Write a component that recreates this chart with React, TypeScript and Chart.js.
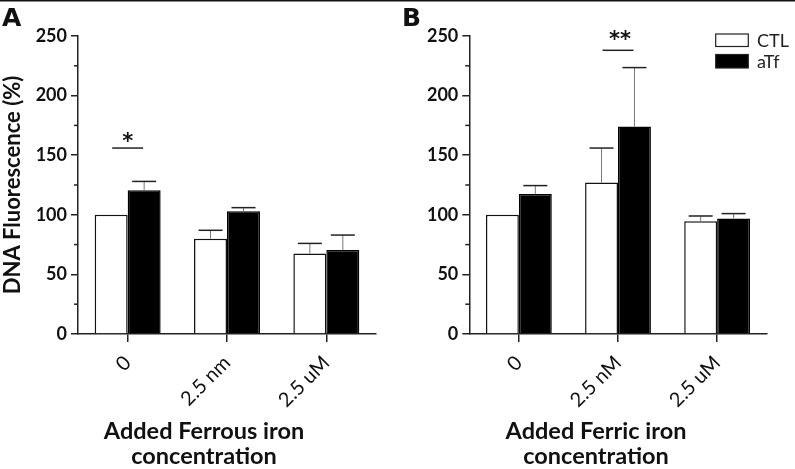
import React, { useEffect, useRef } from 'react';
import { Chart, registerables } from 'chart.js';

Chart.register(...registerables);

// ---------- data ----------
const seriesNames = ['CTL', 'aTf'];
const categoriesA = ['0', '2.5 nm', '2.5 uM'];
const categoriesB = ['0', '2.5 nM', '2.5 uM'];

const ctlA = [100, 80, 67.5];
const ctlErrA = [0, 7, 8.5];
const atfA = [120.5, 103, 70.5];
const atfErrA = [7.5, 3, 12.5];

const ctlB = [100, 127, 94.5];
const ctlErrB = [0, 29, 4.5];
const atfB = [117.5, 174, 97];
const atfErrB = [7, 49.5, 4];

const yMin = 0;
const yMax = 250;
const yStep = 50;
const yMinorTicks = [25, 75, 125, 175, 225];

const sigA = { category: 0, label: '*', lineValue: 156, textValue: 165.5 };
const sigB = { category: 1, label: '**', lineValue: 238, textValue: 250.5 };

const yTitle = 'DNA Fluorescence (%)';
const xTitleA = ['Added Ferrous iron', 'concentration'];
const xTitleB = ['Added Ferric iron', 'concentration'];

// ---------- helpers ----------
const INK = '#111';

function drawCentered(ctx: CanvasRenderingContext2D, text: string, x: number, cy: number) {
  ctx.textBaseline = 'alphabetic';
  const m = ctx.measureText(text);
  const asc = m.actualBoundingBoxAscent;
  const desc = m.actualBoundingBoxDescent;
  ctx.fillText(text, x, cy + (asc - desc) / 2);
}

type PanelProps = {
  letter: string;
  categories: string[];
  ctl: number[];
  ctlErr: number[];
  atf: number[];
  atfErr: number[];
  sig: { category: number; label: string; lineValue: number; textValue: number };
  xTitle: string[];
  xTitleCenter: number;
  showYTitle: boolean;
  showLegend: boolean;
  width: number;
  yAxisWidth: number;
  rightPad: number;
  left: number;
};

function Panel(p: PanelProps) {
  const ref = useRef<HTMLCanvasElement | null>(null);

  useEffect(() => {
    const canvas = ref.current;
    if (!canvas) return;

    const panelPlugin = {
      id: 'panelDecor',
      afterDatasetsDraw(chart: any) {
        const ctx: CanvasRenderingContext2D = chart.ctx;
        const yScale = chart.scales.y;
        ctx.save();
        // error bars (upper only)
        chart.data.datasets.forEach((ds: any, i: number) => {
          const meta = chart.getDatasetMeta(i);
          meta.data.forEach((bar: any, j: number) => {
            const err = ds.errors[j];
            if (!err) return;
            const v = ds.data[j];
            const yTop = yScale.getPixelForValue(v + err);
            const yBar = yScale.getPixelForValue(v);
            ctx.strokeStyle = '#777';
            ctx.lineWidth = 1;
            ctx.beginPath();
            ctx.moveTo(bar.x, yBar);
            ctx.lineTo(bar.x, yTop);
            ctx.stroke();
            ctx.strokeStyle = '#222';
            ctx.lineWidth = 1.5;
            ctx.beginPath();
            ctx.moveTo(bar.x - 12, yTop);
            ctx.lineTo(bar.x + 12, yTop);
            ctx.stroke();
          });
        });
        ctx.restore();
      },
      afterDraw(chart: any) {
        const ctx: CanvasRenderingContext2D = chart.ctx;
        const yScale = chart.scales.y;
        const xScale = chart.scales.x;
        const area = chart.chartArea;
        ctx.save();
        // top border line
        ctx.strokeStyle = '#111';
        ctx.lineWidth = 1.5;
        ctx.beginPath();
        ctx.moveTo(0, 0.75);
        ctx.lineTo(chart.width, 0.75);
        ctx.stroke();
        // minor y ticks
        ctx.strokeStyle = '#222';
        ctx.lineWidth = 1.5;
        yMinorTicks.forEach((v) => {
          const y = yScale.getPixelForValue(v);
          ctx.beginPath();
          ctx.moveTo(area.left - 4, y);
          ctx.lineTo(area.left, y);
          ctx.stroke();
        });
        // significance
        const cx = xScale.getPixelForValue(p.sig.category);
        const ly = yScale.getPixelForValue(p.sig.lineValue);
        ctx.strokeStyle = '#222';
        ctx.lineWidth = 1.5;
        ctx.beginPath();
        ctx.moveTo(cx - 15.5, ly);
        ctx.lineTo(cx + 15.5, ly);
        ctx.stroke();
        ctx.fillStyle = INK;
        ctx.font = 'bold 21px "DejaVu Sans"';
        ctx.textAlign = 'center';
        drawCentered(ctx, p.sig.label, cx + (p.sig.label.length > 1 ? 2 : 0), yScale.getPixelForValue(p.sig.textValue));
        // panel letter
        ctx.textAlign = 'left';
        ctx.textBaseline = 'alphabetic';
        ctx.font = 'bold 25px "DejaVu Sans"';
        ctx.fillText(p.letter, 2, 26);
        // x title
        ctx.textAlign = 'center';
        ctx.font = 'bold 23.5px Lato';
        ctx.fillText(p.xTitle[0], p.xTitleCenter, 439);
        ctx.fillText(p.xTitle[1], p.xTitleCenter, 464);
        // legend
        if (p.showLegend) {
          const boxL = 315.7;
          const boxW = 32.6;
          const rows = [
            { y: 34, h: 12.5, fill: '#fff', label: seriesNames[0] },
            { y: 54.5, h: 13.5, fill: '#000', label: seriesNames[1] },
          ];
          ctx.font = '18px Lato';
          ctx.textAlign = 'left';
          rows.forEach((r) => {
            ctx.fillStyle = r.fill;
            ctx.fillRect(boxL, r.y, boxW, r.h);
            ctx.strokeStyle = '#222';
            ctx.lineWidth = 1.2;
            ctx.strokeRect(boxL, r.y, boxW, r.h);
            ctx.fillStyle = '#222';
            drawCentered(ctx, r.label, 357, r.y + r.h / 2);
          });
        }
        ctx.restore();
      },
    };

    const chart = new Chart(canvas, {
      type: 'bar',
      data: {
        labels: p.categories,
        datasets: [
          {
            label: seriesNames[0],
            data: p.ctl,
            backgroundColor: '#ffffff',
            borderColor: '#111',
            borderWidth: 1.5,
            errors: p.ctlErr,
          } as any,
          {
            label: seriesNames[1],
            data: p.atf,
            backgroundColor: '#000000',
            borderColor: '#000',
            borderWidth: 1.5,
            errors: p.atfErr,
          } as any,
        ],
      },
      options: {
        responsive: false,
        maintainAspectRatio: false,
        animation: false,
        devicePixelRatio: 1,
        layout: { padding: { top: 36, right: p.rightPad, left: 0, bottom: 0 } },
        plugins: {
          legend: { display: false },
          tooltip: { enabled: false },
          title: { display: false },
        },
        datasets: { bar: { categoryPercentage: 0.664, barPercentage: 1 } },
        scales: {
          x: {
            grid: {
              display: true,
              drawOnChartArea: false,
              drawTicks: true,
              tickLength: 8,
              offset: false,
              color: '#222',
              lineWidth: 1.5,
            },
            border: { display: true, color: '#222', width: 1.5 },
            ticks: {
              font: { family: 'Lato', size: 20 },
              color: INK,
              minRotation: 45,
              maxRotation: 45,
              padding: 9,
            },
            afterFit: (s: any) => {
              s.height = 135;
            },
          },
          y: {
            min: yMin,
            max: yMax,
            ticks: {
              stepSize: yStep,
              font: { family: 'Lato', size: 18, weight: 'bold' },
              color: INK,
              padding: 4,
            },
            grid: {
              display: true,
              drawOnChartArea: false,
              drawTicks: true,
              tickLength: 7,
              color: '#222',
              lineWidth: 1.5,
            },
            border: { display: true, color: '#222', width: 1.5 },
            title: {
              display: p.showYTitle,
              text: yTitle,
              font: { family: 'Lato', size: 22, weight: 'bold' },
              color: INK,
              padding: { top: 0, bottom: 0 },
            },
            afterFit: (s: any) => {
              s.width = p.yAxisWidth;
            },
          },
        },
      } as any,
      plugins: [panelPlugin],
    });

    return () => {
      chart.destroy();
    };
  }, []);

  return (
    <canvas
      ref={ref}
      width={p.width}
      height={469}
      style={{ position: 'absolute', left: p.left, top: 0, width: p.width, height: 469 }}
    />
  );
}

export default function App() {
  return (
    <div
      style={{
        position: 'fixed',
        left: 0,
        top: 0,
        width: 795,
        height: 469,
        background: '#fff',
        overflow: 'hidden',
      }}
    >
      <Panel
        letter="A"
        categories={categoriesA}
        ctl={ctlA}
        ctlErr={ctlErrA}
        atf={atfA}
        atfErr={atfErrA}
        sig={sigA}
        xTitle={xTitleA}
        xTitleCenter={204}
        showYTitle={true}
        showLegend={false}
        width={400}
        yAxisWidth={78}
        rightPad={24}
        left={0}
      />
      <Panel
        letter="B"
        categories={categoriesB}
        ctl={ctlB}
        ctlErr={ctlErrB}
        atf={atfB}
        atfErr={atfErrB}
        sig={sigB}
        xTitle={xTitleB}
        xTitleCenter={196}
        showYTitle={false}
        showLegend={true}
        width={395}
        yAxisWidth={69.3}
        rightPad={28.3}
        left={400}
      />
    </div>
  );
}
